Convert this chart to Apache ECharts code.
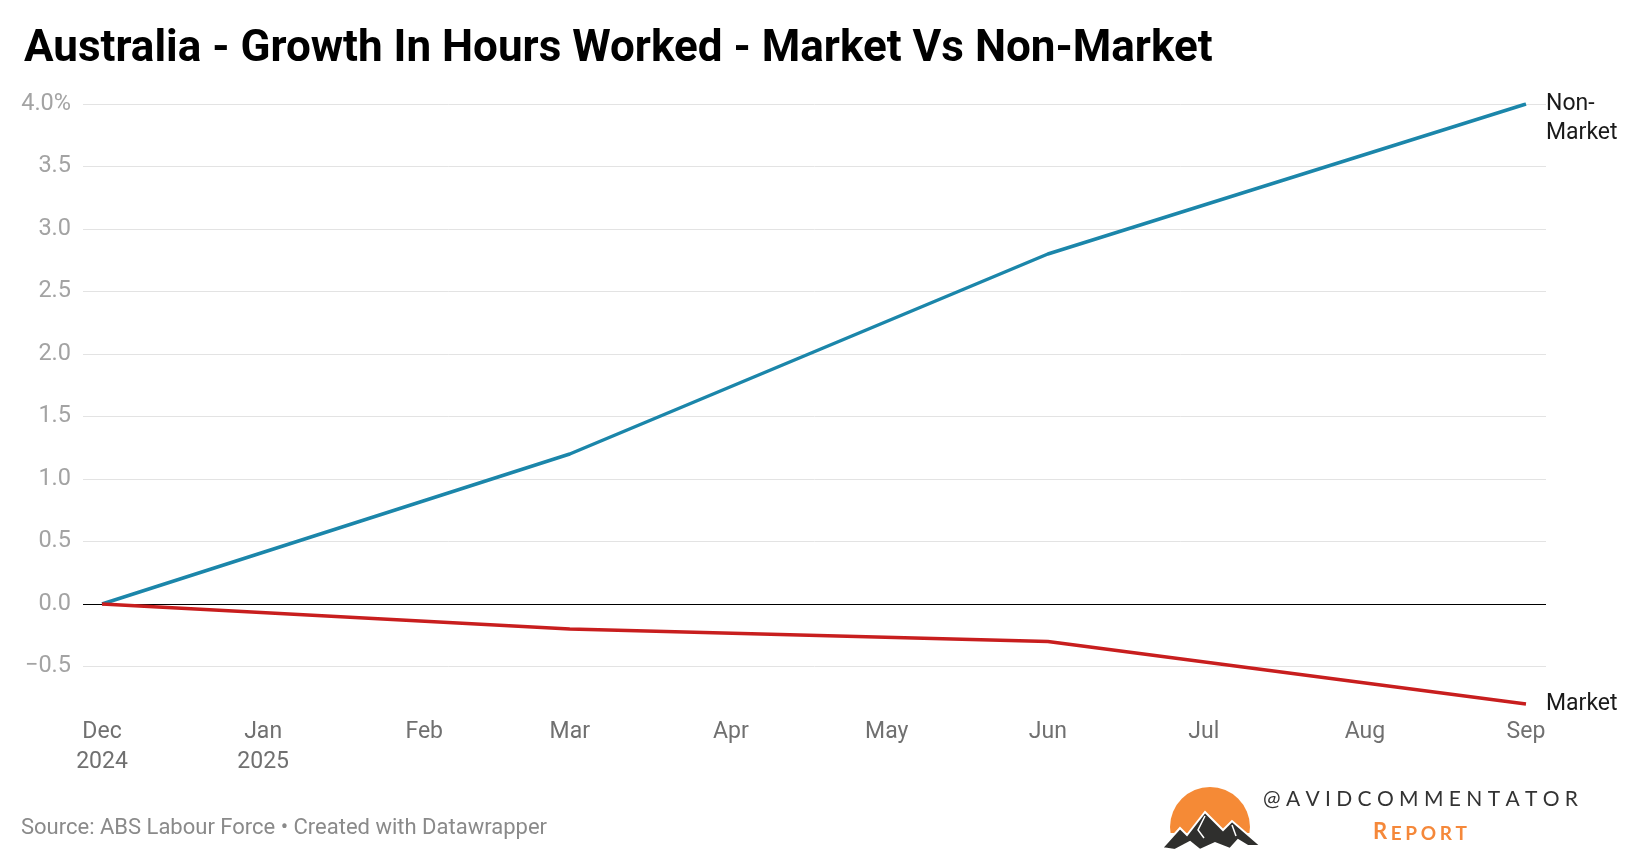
<!DOCTYPE html>
<html>
<head>
<meta charset="utf-8">
<script src="https://cdn.jsdelivr.net/npm/echarts@6/dist/echarts.min.js"></script>
<style>
  html, body { margin: 0; padding: 0; background: #fff; }
  #chart { width: 1640px; height: 860px; }
</style>
</head>
<body>
<div id="chart"></div>
<script>
// ---------- DATA ----------
const periods = ['2024-12-01', '2025-03-01', '2025-06-01', '2025-09-01'];
const nonMarket = [0, 1.2, 2.8, 4.0];
const market = [0, -0.2, -0.3, -0.8];

const xTickDates = ['2024-12-01', '2025-01-01', '2025-02-01', '2025-03-01', '2025-04-01',
                    '2025-05-01', '2025-06-01', '2025-07-01', '2025-08-01', '2025-09-01'];
const xTickLabels = ['Dec\n2024', 'Jan\n2025', 'Feb', 'Mar', 'Apr', 'May', 'Jun', 'Jul', 'Aug', 'Sep'];

const yTickValues = [-0.5, 0, 0.5, 1, 1.5, 2, 2.5, 3, 3.5, 4];
const yTickLabels = ['\u22120.5', '0.0', '0.5', '1.0', '1.5', '2.0', '2.5', '3.0', '3.5', '4.0%'];

const titleText = 'Australia - Growth In Hours Worked - Market Vs Non-Market';
const sourceText = 'Source: ABS Labour Force \u2022 Created with Datawrapper';
const brandText = '@AVIDCOMMENTATOR';
const brandSub = 'REPORT';

// ---------- HELPERS ----------
const DAY = 86400000;
const ts = s => Date.parse(s + 'T00:00:00Z');
const toPairs = vals => periods.map((p, i) => [ts(p), vals[i]]);
const xTickTs = xTickDates.map(ts);

const FONT = 'Roboto, "Noto Sans", sans-serif';

// spaced-letter text helper for the logo
function spacedChars(text, x0, totalWidth, y, fontSpecs, color, weight) {
  const c = document.createElement('canvas').getContext('2d');
  const widths = text.split('').map((ch, i) => {
    c.font = `${weight} ${fontSpecs(i)}px Lato`;
    return c.measureText(ch).width;
  });
  const sum = widths.reduce((a, b) => a + b, 0);
  const gap = (totalWidth - sum) / (text.length - 1);
  let x = x0;
  return text.split('').map((ch, i) => {
    const el = {
      type: 'text', x: x, y: y, silent: true,
      style: { text: ch, fill: color, font: `${weight} ${fontSpecs(i)}px Lato`,
               textAlign: 'left', textVerticalAlign: 'bottom' }
    };
    x += widths[i] + gap;
    return el;
  });
}

const chart = echarts.init(document.getElementById('chart'), null, { renderer: 'canvas' });

const option = {
  backgroundColor: '#ffffff',
  animation: false,
  grid: { left: 83, right: 94, top: 104, bottom: 131, containLabel: false },
  title: {
    text: titleText,
    left: 19, top: 23,
    textStyle: { fontFamily: FONT, fontWeight: 'bold', fontSize: 44, color: '#000' }
  },
  xAxis: {
    type: 'value',
    min: ts(periods[0]) - 3.66 * DAY,
    max: ts(periods[periods.length - 1]) + 3.85 * DAY,
    axisLine: { show: false },
    axisTick: { show: false },
    splitLine: { show: false },
    axisLabel: {
      customValues: xTickTs,
      formatter: v => {
        const i = xTickTs.indexOf(v);
        return i >= 0 ? xTickLabels[i] : '';
      },
      margin: -12,
      fontFamily: FONT, fontSize: 23, color: '#707070', lineHeight: 30,
      hideOverlap: false
    }
  },
  yAxis: {
    type: 'value',
    min: -1, max: 4, interval: 0.5,
    axisLine: { show: false },
    axisTick: { show: false },
    splitLine: { show: true, showMinLine: false, lineStyle: { color: '#e3e3e3', width: 1 } },
    axisLabel: {
      margin: 12,
      fontFamily: FONT, fontSize: 23.5, color: '#a3a3a3',
      formatter: v => {
        const i = yTickValues.findIndex(t => Math.abs(t - v) < 1e-9);
        return i >= 0 ? yTickLabels[i] : '';
      }
    }
  },
  series: [
    {
      name: 'Non-Market',
      type: 'line',
      data: toPairs(nonMarket),
      showSymbol: false,
      lineStyle: { color: '#1b86aa', width: 3.5 },
      itemStyle: { color: '#1b86aa' },
      z: 3,
      endLabel: {
        show: true,
        formatter: 'Non-\nMarket',
        distance: 20,
        offset: [0, 15],
        fontFamily: FONT, fontSize: 23, color: '#1a1a1a', lineHeight: 29, align: 'left'
      },
      markLine: {
        silent: true, symbol: 'none',
        label: { show: false },
        lineStyle: { color: '#000', width: 1.2, type: 'solid' },
        data: [{ yAxis: 0 }],
        z: 2
      }
    },
    {
      name: 'Market',
      type: 'line',
      data: toPairs(market),
      showSymbol: false,
      lineStyle: { color: '#c81e1e', width: 3.5 },
      itemStyle: { color: '#c81e1e' },
      z: 4,
      endLabel: {
        show: true,
        formatter: 'Market',
        distance: 20,
        fontFamily: FONT, fontSize: 23, color: '#1a1a1a', align: 'left'
      }
    }
  ],
  graphic: [
    {
      type: 'text', left: 21, top: 817, silent: true,
      style: { text: sourceText, fill: '#8a8a8a', font: `22px ${FONT}` }
    },
    { type: 'circle', silent: true, shape: { cx: 1210, cy: 827, r: 40 }, style: { fill: '#f58a36' } },
    { type: 'rect', silent: true, shape: { x: 1160, y: 833, width: 105, height: 27 }, style: { fill: '#fff' } },
    {
      type: 'polygon', silent: true,
      shape: { points: [[1162, 848], [1180, 828], [1187, 835], [1205, 812], [1223, 830], [1232, 821],
                        [1261, 846], [1248, 846], [1238, 840], [1230, 849], [1215, 843], [1200, 850],
                        [1190, 842], [1175, 850]] },
      style: { fill: '#2f2f2d', stroke: '#ffffff', lineWidth: 2 }
    },
    { type: 'polyline', silent: true, shape: { points: [[1205, 816], [1198, 830], [1204, 838]] },
      style: { stroke: '#ffffff', lineWidth: 1.5, fill: null } },
    { type: 'polyline', silent: true, shape: { points: [[1232, 825], [1236, 836]] },
      style: { stroke: '#ffffff', lineWidth: 1.5, fill: null } },
    ...spacedChars(brandText, 1263, 315, 810, () => 21, '#333333', 'normal'),
    ...spacedChars(brandSub, 1373, 94, 843, i => (i === 0 ? 22 : 19), '#f5883a', 'bold')
  ]
};

chart.setOption(option);
</script>
</body>
</html>
